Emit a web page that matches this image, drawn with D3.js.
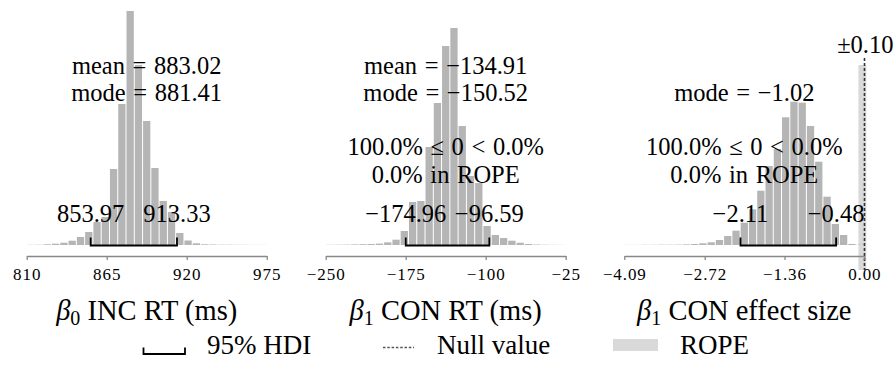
<!DOCTYPE html>
<html>
<head>
<meta charset="utf-8">
<script src="https://cdn.jsdelivr.net/npm/d3@7"></script>
<style>
  body { margin: 0; background: #fff; }
  svg { display: block; }
  text { font-family: "Liberation Serif", "DejaVu Serif", serif; fill: #000; }
</style>
</head>
<body>
<div id="chart"></div>
<script>
// posterior samples, binned (29 bins across each axis range)
const counts0 = [0.2, 0.3, 0.7, 1.3, 2.3, 4.3, 8, 13, 23, 28, 76, 141, 234, 180, 124, 77, 44, 33, 12, 4.5, 1.7, 0.7, 0.5, 0.3, 0.3, 0.2, 0.2, 0.1, 0.1];
const counts1 = [0.2, 0.3, 0.4, 0.6, 0.8, 1.0, 1.4, 2.7, 5.3, 14, 43, 44, 98, 142, 199, 217, 119, 69, 62, 19, 10, 7, 4.3, 2.3, 1, 0.5, 0.3, 0.2, 0.1];
const counts2 = [0.1, 0.1, 0.2, 0.2, 0.3, 0.3, 0.4, 0.6, 1, 1.7, 2.7, 5, 9, 14.3, 22.3, 35.7, 54.3, 79, 96, 127.7, 143.3, 142.3, 119, 83.3, 48.3, 21, 10, 1, 0.3];

const domains = [[810, 975], [-250, -25], [-4.09, 0.00]];
const tickValues = [[810, 865, 920, 975], [-250, -175, -100, -25], [-4.09, -2.72, -1.36, 0.00]];
const tickLabels = [['810', '865', '920', '975'], ['−250', '−175', '−100', '−25'], ['−4.09', '−2.72', '−1.36', '0.00']];
const hdi = [[853.97, 913.33], [-174.96, -96.59], [-2.11, -0.48]];
const hdiLabels = [['853.97', '913.33'], ['−174.96', '−96.59'], ['−2.11', '−0.48']];
const meanText = ['mean = 883.02', 'mean = −134.91', null];
const modeText = ['mode = 881.41', 'mode = −150.52', 'mode = −1.02'];
const compText = [null, '100.0% ≤ 0 < 0.0%', '100.0% ≤ 0 < 0.0%'];
const ropeText = [null, '0.0% in ROPE', '0.0% in ROPE'];
const nullValue = [null, 0, 0];
const rope = [null, null, [-0.10, 0.10]];
const ropeLabel = [null, null, '±0.10'];
const paramSub = ['0', '1', '1'];
const paramName = ['INC RT (ms)', 'CON RT (ms)', 'CON effect size'];
const legendLabels = ['95% HDI', 'Null value', 'ROPE'];

const W = 896, H = 367;
const FONT = '"Liberation Serif", "DejaVu Serif", serif';
const panelLeft = [26.7, 325.7, 624.3];
const panelWidth = 240;
const baseY = 245, axisY = 256;
const barColor = '#b5b5b5', ropeColor = '#d9d9d9';

const svg = d3.select('#chart').append('svg')
  .attr('width', W).attr('height', H);

const allCounts = [counts0, counts1, counts2];
const y = d3.scaleLinear()
  .domain([0, d3.max(allCounts.flat())])
  .range([baseY, 11]);

allCounts.forEach((counts, p) => {
  const [lo, hi] = domains[p];
  const x = d3.scaleLinear().domain([lo, hi]).range([panelLeft[p], panelLeft[p] + panelWidth]);
  const g = svg.append('g');
  const cx = panelLeft[p] + panelWidth / 2;
  const n = counts.length;
  const bins = counts.map((c, i) => ({ x0: lo + i * (hi - lo) / n, x1: lo + (i + 1) * (hi - lo) / n, c }));

  // rope band (clipped to the axis range)
  if (rope[p]) {
    const r0 = Math.max(x(rope[p][0]), x.range()[0]);
    const r1 = Math.min(x(rope[p][1]), x.range()[1] + 2);
    g.append('rect')
      .attr('x', r0).attr('y', 65)
      .attr('width', r1 - r0).attr('height', 205)
      .attr('fill', ropeColor);
    g.append('text')
      .attr('x', x(0) + 1).attr('y', 53)
      .attr('text-anchor', 'middle')
      .style('font-size', '24.5px')
      .text(ropeLabel[p]);
  }

  // histogram bars
  g.selectAll('rect.bar')
    .data(bins)
    .join('rect')
    .attr('class', 'bar')
    .attr('x', d => x(d.x0) + 0.5)
    .attr('width', d => x(d.x1) - x(d.x0) - 1)
    .attr('y', d => y(d.c))
    .attr('height', d => baseY - y(d.c))
    .attr('fill', barColor);

  // null value
  const nv = nullValue[p];
  if (nv !== null && nv >= lo && nv <= hi) {
    const nx = Math.round(x(nv)) + 0.5;
    g.append('line')
      .attr('x1', nx).attr('x2', nx)
      .attr('y1', 58).attr('y2', 270)
      .attr('stroke', '#333').attr('stroke-width', 1.6)
      .attr('stroke-dasharray', '3,2');
  }

  // HDI bracket
  const [h0, h1] = hdi[p];
  g.append('path')
    .attr('d', `M${x(h0)},237.5V245.5H${x(h1)}V237.5`)
    .attr('fill', 'none').attr('stroke', '#000').attr('stroke-width', 1.8);
  g.selectAll('text.hdi')
    .data([h0, h1])
    .join('text')
    .attr('class', 'hdi')
    .attr('x', d => x(d)).attr('y', 222)
    .attr('text-anchor', 'middle')
    .style('font-size', '24.5px')
    .text((d, i) => hdiLabels[p][i]);

  // summary text
  const stats = [[meanText[p], 74], [modeText[p], 101], [compText[p], 155], [ropeText[p], 183]]
    .filter(s => s[0]);
  g.selectAll('text.stat')
    .data(stats)
    .join('text')
    .attr('class', 'stat')
    .attr('x', cx).attr('y', d => d[1])
    .attr('text-anchor', 'middle')
    .style('font-size', '24.5px')
    .style('word-spacing', '1.5px')
    .text(d => d[0]);

  // x axis
  const axis = d3.axisBottom(x)
    .tickValues(tickValues[p])
    .tickFormat((d, i) => tickLabels[p][i])
    .tickSize(4)
    .tickPadding(8)
    .tickSizeOuter(0);
  const ag = g.append('g')
    .attr('transform', `translate(0,${axisY})`)
    .call(axis)
    .attr('font-family', FONT);
  ag.select('.domain').attr('stroke', '#888').attr('stroke-width', 1.3);
  ag.selectAll('.tick line').attr('stroke', '#888').attr('stroke-width', 1.3);
  ag.selectAll('.tick text')
    .style('font-family', FONT)
    .style('font-size', '17px')
    .style('letter-spacing', '0.9px')
    .attr('fill', '#111');

  // parameter title
  const t = g.append('text')
    .attr('x', cx).attr('y', 320)
    .attr('text-anchor', 'middle')
    .style('font-size', '28.5px');
  t.append('tspan').style('font-style', 'italic').text('β');
  t.append('tspan').attr('dy', 5).style('font-size', '20px').text(paramSub[p]);
  t.append('tspan').attr('dy', -5).text(' ' + paramName[p]);
});

// legend
const lg = svg.append('g');
lg.append('path')
  .attr('d', 'M143.5,347.5V354H185V347.5')
  .attr('fill', 'none').attr('stroke', '#000').attr('stroke-width', 1.8);
lg.append('line')
  .attr('x1', 383).attr('x2', 414).attr('y1', 347.5).attr('y2', 347.5)
  .attr('stroke', '#555').attr('stroke-width', 1.4)
  .attr('stroke-dasharray', '2.5,1.8');
lg.append('rect')
  .attr('x', 613).attr('y', 339).attr('width', 45).attr('height', 12)
  .attr('fill', ropeColor);
lg.selectAll('text')
  .data(legendLabels)
  .join('text')
  .attr('x', (d, i) => [207, 437, 680][i])
  .attr('y', 354)
  .style('font-size', '27px')
  .text(d => d);
</script>
</body>
</html>
